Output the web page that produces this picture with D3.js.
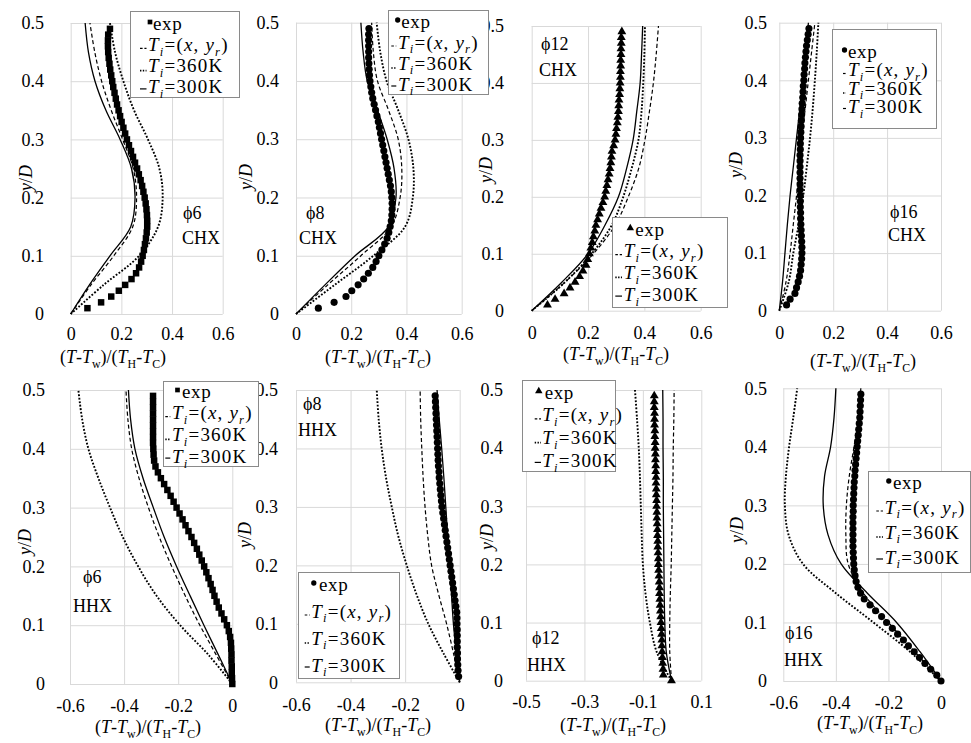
<!DOCTYPE html>
<html>
<head>
<meta charset="utf-8">
<script src="https://cdn.jsdelivr.net/npm/d3@7"></script>
<style>
  body { margin: 0; background: #fff; }
  svg text { font-family: "Liberation Serif", "Times New Roman", "DejaVu Serif", serif; fill: #000; white-space: pre; }
</style>
</head>
<body>
<svg id="chart" width="971" height="743"></svg>
<script>
// ---- shared axis values ----
const yTicks = [0, 0.1, 0.2, 0.3, 0.4, 0.5];
const xTicksPos = [0, 0.2, 0.4, 0.6];
const xTicksNeg = [-0.6, -0.4, -0.2, 0];
const xTicksShift = [-0.5, -0.3, -0.1, 0.1];

// y/D positions of the simulated profiles
const yLine = [0, 0.05, 0.1, 0.15, 0.2, 0.25, 0.3, 0.35, 0.4, 0.45, 0.5];
// y/D positions of the measured points
const yExpA = [0.01,0.02,0.03,0.04,0.05,0.06,0.07,0.08,0.09,0.10,
               0.11,0.12,0.13,0.14,0.15,0.16,0.17,0.18,0.19,0.20,
               0.21,0.22,0.23,0.24,0.25,0.26,0.27,0.28,0.29,0.30,
               0.31,0.32,0.33,0.34,0.35,0.36,0.37,0.38,0.39,0.40,
               0.41,0.42,0.43,0.44,0.45,0.46,0.47,0.48,0.49];
const yExpB = [0.00,0.01,0.02,0.03,0.04,0.05,0.06,0.07,0.08,0.09,0.10,
               0.11,0.12,0.13,0.14,0.15,0.16,0.17,0.18,0.19,0.20,
               0.21,0.22,0.23,0.24,0.25,0.26,0.27,0.28,0.29,0.30,
               0.31,0.32,0.33,0.34,0.35,0.36,0.37,0.38,0.39,0.40,
               0.41,0.42,0.43,0.44,0.45,0.46,0.47,0.48,0.49];

// ---- CHX, φ6 ----
const chx6Exp = [0.066,0.120,0.160,0.190,0.215,0.240,0.258,0.270,0.278,0.284,
                 0.289,0.293,0.297,0.300,0.302,0.302,0.301,0.299,0.296,0.292,
                 0.287,0.282,0.276,0.269,0.262,0.254,0.246,0.238,0.230,0.222,
                 0.215,0.208,0.201,0.195,0.189,0.183,0.178,0.173,0.168,0.164,
                 0.160,0.156,0.153,0.150,0.148,0.147,0.147,0.148,0.155];
const chx6K300 = [0,0.074,0.155,0.237,0.254,0.240,0.195,0.139,0.096,0.070,0.057];
const chx6Xyr  = [0,0.080,0.170,0.245,0.260,0.247,0.205,0.160,0.122,0.095,0.076];
const chx6K360 = [0,0.130,0.270,0.345,0.363,0.350,0.305,0.250,0.208,0.175,0.155];

// ---- CHX, φ8 ----
const chx8Exp = [0.081,0.138,0.181,0.202,0.225,0.245,0.262,0.278,0.290,0.300,
                 0.311,0.321,0.330,0.336,0.341,0.345,0.347,0.348,0.348,0.347,
                 0.345,0.342,0.338,0.334,0.330,0.326,0.322,0.318,0.314,0.310,
                 0.306,0.302,0.298,0.293,0.288,0.283,0.278,0.274,0.271,0.268,
                 0.266,0.265,0.264,0.263,0.263,0.263,0.263,0.263,0.264];
const chx8K300 = [0,0.105,0.214,0.335,0.362,0.355,0.330,0.295,0.258,0.243,0.235];
const chx8Xyr  = [0,0.115,0.235,0.345,0.377,0.383,0.370,0.335,0.295,0.280,0.274];
const chx8K360 = [0,0.140,0.280,0.395,0.423,0.425,0.407,0.370,0.328,0.305,0.292];

// ---- CHX, φ12 ----
const chx12Exp = [0.056,0.083,0.115,0.136,0.154,0.170,0.182,0.193,0.199,0.205,
                  0.210,0.215,0.219,0.224,0.228,0.234,0.240,0.246,0.253,0.259,
                  0.263,0.267,0.271,0.275,0.278,0.281,0.283,0.285,0.291,0.296,
                  0.299,0.301,0.304,0.306,0.308,0.309,0.310,0.312,0.313,0.314,
                  0.315,0.315,0.316,0.316,0.317,0.317,0.318,0.318,0.320];
const chx12K300 = [0,0.107,0.200,0.260,0.308,0.337,0.360,0.373,0.385,0.390,0.394];
const chx12Xyr  = [0,0.118,0.219,0.296,0.343,0.380,0.402,0.418,0.432,0.442,0.450];
const chx12K360 = [0,0.118,0.213,0.284,0.325,0.355,0.379,0.390,0.396,0.400,0.402];

// ---- CHX, φ16 ----
const chx16Exp = [0.027,0.040,0.058,0.064,0.070,0.075,0.079,0.081,0.083,0.084,
                  0.084,0.083,0.082,0.081,0.080,0.079,0.079,0.078,0.078,0.078,
                  0.077,0.077,0.077,0.077,0.077,0.077,0.077,0.078,0.078,0.079,
                  0.080,0.081,0.082,0.083,0.084,0.085,0.087,0.088,0.089,0.091,
                  0.092,0.094,0.095,0.097,0.099,0.101,0.104,0.107,0.110];
const chx16K300 = [0,0.012,0.021,0.030,0.040,0.052,0.064,0.076,0.088,0.098,0.108];
const chx16Xyr  = [0,0.025,0.040,0.052,0.064,0.074,0.083,0.096,0.108,0.120,0.132];
const chx16K360 = [0,0.035,0.052,0.072,0.089,0.102,0.114,0.124,0.132,0.139,0.145];

// ---- HHX, φ6 ----
const hhx6Exp = [0,-0.001,-0.002,-0.002,-0.003,-0.003,-0.004,-0.005,-0.008,-0.013,
                 -0.020,-0.030,-0.040,-0.050,-0.058,-0.066,-0.073,-0.080,-0.088,-0.096,
                 -0.104,-0.113,-0.122,-0.131,-0.141,-0.151,-0.162,-0.173,-0.184,-0.195,
                 -0.206,-0.217,-0.228,-0.240,-0.252,-0.264,-0.275,-0.284,-0.289,-0.291,
                 -0.292,-0.293,-0.293,-0.293,-0.293,-0.293,-0.293,-0.293,-0.293,-0.293];
const hhx6K300 = [0,-0.052,-0.105,-0.156,-0.206,-0.252,-0.292,-0.330,-0.360,-0.376,-0.384];
const hhx6Xyr  = [0,-0.060,-0.120,-0.174,-0.224,-0.270,-0.310,-0.345,-0.372,-0.386,-0.393];
const hhx6K360 = [0,-0.089,-0.193,-0.280,-0.348,-0.405,-0.452,-0.495,-0.532,-0.555,-0.569];

// ---- HHX, φ8 ----
const hhx8Exp = [-0.004,-0.006,-0.007,-0.008,-0.008,-0.009,-0.009,-0.009,-0.009,-0.010,
                 -0.010,-0.011,-0.014,-0.017,-0.020,-0.023,-0.026,-0.029,-0.032,-0.035,
                 -0.038,-0.041,-0.044,-0.047,-0.050,-0.053,-0.056,-0.059,-0.062,-0.065,
                 -0.067,-0.069,-0.071,-0.073,-0.075,-0.076,-0.078,-0.079,-0.080,-0.081,
                 -0.082,-0.083,-0.084,-0.085,-0.086,-0.087,-0.088,-0.089,-0.090];
const hhx8K300 = [0,-0.012,-0.023,-0.030,-0.037,-0.044,-0.051,-0.058,-0.066,-0.075,-0.083];
const hhx8Xyr  = [0,-0.023,-0.048,-0.077,-0.103,-0.117,-0.127,-0.134,-0.139,-0.143,-0.145];
const hhx8K360 = [0,-0.060,-0.115,-0.158,-0.194,-0.225,-0.249,-0.270,-0.286,-0.297,-0.304];

// ---- HHX, φ12 ----
const hhx12Exp = [-0.002,-0.030,-0.031,-0.032,-0.033,-0.034,-0.035,-0.035,-0.036,-0.037,
                  -0.038,-0.039,-0.040,-0.041,-0.042,-0.043,-0.043,-0.044,-0.045,-0.046,
                  -0.047,-0.047,-0.048,-0.049,-0.049,-0.050,-0.050,-0.051,-0.052,-0.052,
                  -0.053,-0.053,-0.054,-0.054,-0.055,-0.055,-0.056,-0.056,-0.057,-0.057,
                  -0.058,-0.058,-0.059,-0.059,-0.060,-0.060,-0.060,-0.061,-0.061,-0.061];
const hhx12K300 = [-0.002,-0.020,-0.025,-0.027,-0.028,-0.029,-0.030,-0.030,-0.031,-0.031,-0.032];
const hhx12Xyr  = [-0.002,-0.008,-0.008,-0.006,-0.003,-0.001,0.001,0.003,0.004,0.006,0.007];
const hhx12K360 = [-0.002,-0.053,-0.076,-0.091,-0.100,-0.104,-0.107,-0.110,-0.114,-0.120,-0.127];

// ---- HHX, φ16 ----
const hhx16Exp = [0,-0.016,-0.039,-0.061,-0.082,-0.102,-0.124,-0.143,-0.165,-0.185,
                  -0.207,-0.226,-0.249,-0.270,-0.292,-0.306,-0.316,-0.323,-0.327,-0.330,
                  -0.332,-0.333,-0.334,-0.335,-0.335,-0.335,-0.335,-0.335,-0.335,-0.334,
                  -0.334,-0.333,-0.332,-0.331,-0.330,-0.328,-0.327,-0.325,-0.323,-0.321,
                  -0.319,-0.317,-0.315,-0.313,-0.311,-0.309,-0.308,-0.307,-0.306,-0.305];
const hhx16K300 = [0,-0.080,-0.169,-0.280,-0.380,-0.430,-0.448,-0.443,-0.420,-0.407,-0.400];
const hhx16Xyr  = [0,-0.100,-0.200,-0.295,-0.353,-0.362,-0.360,-0.349,-0.331,-0.315,-0.305];
const hhx16K360 = [0,-0.118,-0.257,-0.400,-0.525,-0.580,-0.594,-0.590,-0.578,-0.562,-0.547];

// ---- panel layout ----
const panels = [
  { exp: chx6Exp, expY: yExpA, k300: chx6K300, xyr: chx6Xyr, k360: chx6K360, sym: d3.symbolSquare,
    xDomain: [0, 0.6], xTicks: xTicksPos,
    left: 70.7, right: 222.7, top: 23, bottom: 314, yLabRight: 44, xPad: 13,
    xTitle: [113, 363], yTitle: [26, 178],
    tag: [["\u03D56", 183, 219], ["CHX", 182, 244]],
    leg: { x: 130, y: 11, w: 109, h: 86, off: 13, sp: 21.3, mx: 20, ex: 23, l0: 10, l1: 16.5, tx: 18 } },
  { exp: chx8Exp, expY: yExpA, k300: chx8K300, xyr: chx8Xyr, k360: chx8K360, sym: d3.symbolCircle,
    xDomain: [0, 0.6], xTicks: xTicksPos,
    left: 296, right: 461.7, top: 22.7, bottom: 314, yLabRight: 279, xPad: 13,
    xTitle: [378, 363], yTitle: [246, 177],
    tag: [["\u03D58", 306, 219], ["CHX", 299, 244]],
    leg: { x: 388, y: 10, w: 100, h: 84, off: 12, sp: 21, mx: 9.7, ex: 13.3, l0: 3.3, l1: 8.3, tx: 10 } },
  { exp: chx12Exp, expY: yExpA, k300: chx12K300, xyr: chx12Xyr, k360: chx12K360, sym: d3.symbolTriangle,
    xDomain: [0, 0.6], xTicks: xTicksPos,
    left: 531.7, right: 700.7, top: 26, bottom: 310.7, yLabRight: 504, xPad: 16,
    xTitle: [616, 360], yTitle: [486, 170],
    tag: [["\u03D512", 541, 50], ["CHX", 539, 76]],
    leg: { x: 612, y: 217, w: 115, h: 90, off: 13, sp: 21.7, mx: 18.3, ex: 23.3, l0: 3.3, l1: 10, tx: 11.7 } },
  { exp: chx16Exp, expY: yExpA, k300: chx16K300, xyr: chx16Xyr, k360: chx16K360, sym: d3.symbolCircle,
    xDomain: [0, 0.6], xTicks: xTicksPos,
    left: 779.3, right: 941, top: 22.7, bottom: 310.7, yLabRight: 767, xPad: 16,
    xTitle: [863, 367], yTitle: [736, 165],
    tag: [["\u03D516", 890, 218], ["CHX", 888, 241]],
    leg: { x: 832, y: 29, w: 104, h: 99, off: 23, sp: 18.5, mx: 12.5, ex: 16, l0: 11, l1: 14, tx: 16 } },
  { exp: hhx6Exp, expY: yExpB, k300: hhx6K300, xyr: hhx6Xyr, k360: hhx6K360, sym: d3.symbolSquare,
    xDomain: [-0.6, 0], xTicks: xTicksNeg,
    left: 70, right: 232.3, top: 390, bottom: 684, yLabRight: 45, xPad: 15,
    xTitle: [148, 733], yTitle: [25, 542],
    tag: [["\u03D56", 83, 583], ["HHX", 73, 612]],
    leg: { x: 163, y: 381, w: 95, h: 85, off: 11, sp: 21.7, mx: 14.5, ex: 19, l0: 2.3, l1: 7.3, tx: 9 } },
  { exp: hhx8Exp, expY: yExpA, k300: hhx8K300, xyr: hhx8Xyr, k360: hhx8K360, sym: d3.symbolCircle,
    xDomain: [-0.6, 0], xTicks: xTicksNeg,
    left: 296, right: 459.7, top: 390, bottom: 682.3, yLabRight: 278, xPad: 16,
    xTitle: [378, 731], yTitle: [245, 535],
    tag: [["\u03D58", 303, 410], ["HHX", 298, 436]],
    leg: { x: 298, y: 572, w: 101, h: 106, off: 13, sp: 27, mx: 15.8, ex: 21, l0: 6.7, l1: 11.7, tx: 13.3 } },
  { exp: hhx12Exp, expY: yExpB, k300: hhx12K300, xyr: hhx12Xyr, k360: hhx12K360, sym: d3.symbolTriangle,
    xDomain: [-0.5, 0.1], xTicks: xTicksShift,
    left: 526, right: 701.3, top: 390, bottom: 680.7, yLabRight: 503, xPad: 15,
    xTitle: [613, 731], yTitle: [487, 537],
    tag: [["\u03D512", 532, 644], ["HHX", 527, 671]],
    leg: { x: 522, y: 380, w: 93, h: 91, off: 13, sp: 22.8, mx: 16.8, ex: 22.7, l0: 12.7, l1: 19, tx: 20.3 } },
  { exp: hhx16Exp, expY: yExpB, k300: hhx16K300, xyr: hhx16Xyr, k360: hhx16K360, sym: d3.symbolCircle,
    xDomain: [-0.6, 0], xTicks: xTicksNeg,
    left: 783.3, right: 941, top: 388.3, bottom: 681, yLabRight: 767, xPad: 15,
    xTitle: [870, 729], yTitle: [737, 530],
    tag: [["\u03D516", 785, 639], ["HHX", 784, 666]],
    leg: { x: 868, y: 471, w: 102, h: 101, off: 12, sp: 25, mx: 20.8, ex: 25, l0: 8.3, l1: 15, tx: 16.7 } }
];

const svg = d3.select("#chart");
svg.append("rect").attr("width", 971).attr("height", 743).attr("fill", "#fff");

const GRID = "#d9d9d9";
const FS = 18;        // tick / title font size
const LFS = 19;       // legend font size

// text with italic parts and subscripts
function rich(textSel, parts, fs) {
  let shift = 0;
  parts.forEach(([s, st]) => {
    const sub = st === "si" || st === "sn";
    const target = sub ? fs * 0.26 : 0;
    const t = textSel.append("tspan").text(s)
      .attr("font-style", (st === "i" || st === "si") ? "italic" : "normal")
      .attr("font-size", sub ? fs * 0.66 : fs);
    if (target !== shift) { t.attr("dy", target - shift); shift = target; }
  });
}

const xTitleParts = [["(", "n"], ["T", "i"], ["-", "n"], ["T", "i"], ["w", "sn"], [")/(", "n"],
                     ["T", "i"], ["H", "sn"], ["-", "n"], ["T", "i"], ["C", "sn"], [")", "n"]];
const yTitleParts = [["y", "i"], ["/", "n"], ["D", "i"]];
const fmt = d => (d === 0 ? "0" : String(d));

const styles = {
  k300: { w: 1.3, dash: null },
  xyr:  { w: 1.2, dash: "4,2.6" },
  k360: { w: 1.9, dash: "1.8,1.7" }
};

panels.forEach(p => {
  const g = svg.append("g");
  const x = d3.scaleLinear().domain(p.xDomain).range([p.left, p.right]);
  const y = d3.scaleLinear().domain([0, 0.5]).range([p.bottom, p.top]);

  // vertical grid + x tick labels
  g.append("g").attr("transform", `translate(0,${p.bottom})`)
    .call(d3.axisBottom(x).tickValues(p.xTicks).tickFormat(fmt)
      .tickSize(-(p.bottom - p.top)).tickPadding(p.xPad))
    .call(a => a.select(".domain").remove())
    .call(a => a.selectAll("line").attr("stroke", GRID))
    .attr("font-family", null).attr("font-size", FS);

  // horizontal grid + y tick labels
  g.append("g").attr("transform", `translate(${p.left},0)`)
    .call(d3.axisLeft(y).tickValues(yTicks).tickFormat(fmt)
      .tickSize(-(p.right - p.left)).tickPadding(p.left - p.yLabRight))
    .call(a => a.select(".domain").remove())
    .call(a => a.selectAll("line").attr("stroke", GRID))
    .attr("font-family", null).attr("font-size", FS);

  // simulated profiles
  const line = d3.line().x(d => x(d[0])).y(d => y(d[1])).curve(d3.curveCatmullRom.alpha(0.5));
  ["k360", "xyr", "k300"].forEach(key => {
    const pts = p[key].map((v, i) => [v, yLine[i]]);
    g.append("path").attr("d", line(pts)).attr("fill", "none")
      .attr("stroke", "#000").attr("stroke-width", styles[key].w)
      .attr("stroke-dasharray", styles[key].dash);
  });

  // measured points
  const symSize = p.sym === d3.symbolTriangle ? 34 : (p.sym === d3.symbolSquare ? 42 : 40);
  const sym = d3.symbol().type(p.sym).size(symSize);
  g.append("g").selectAll("path").data(p.exp.map((v, i) => [v, p.expY[i]])).join("path")
    .attr("transform", d => `translate(${x(d[0])},${y(d[1])})`)
    .attr("d", sym).attr("fill", "#000");

  // case tag
  p.tag.forEach(([s, tx, ty]) => {
    g.append("text").attr("x", tx).attr("y", ty).attr("font-size", FS).text(s);
  });

  // axis titles
  rich(g.append("text").attr("x", p.xTitle[0]).attr("y", p.xTitle[1]).attr("text-anchor", "middle"),
       xTitleParts, FS);
  rich(g.append("text").attr("text-anchor", "middle")
         .attr("transform", `translate(${p.yTitle[0] + 6},${p.yTitle[1]}) rotate(-90)`),
       yTitleParts, FS);
});

// legends on top of everything
panels.forEach(p => {
  const L = p.leg;
  const g = svg.append("g").attr("transform", `translate(${L.x},${L.y})`);
  g.append("rect").attr("x", 0.5).attr("y", 0.5).attr("width", L.w).attr("height", L.h)
    .attr("fill", "#fff").attr("stroke", "#8a8a8a").attr("stroke-width", 1);
  const rowY = i => L.off + i * L.sp;

  g.append("path").attr("transform", `translate(${L.mx},${rowY(0) - 2})`)
    .attr("d", d3.symbol().type(p.sym).size(p.sym === d3.symbolTriangle ? 24 : 22)).attr("fill", "#000");
  g.append("text").attr("x", L.ex).attr("y", rowY(0) + 5.5).attr("font-size", LFS)
    .attr("letter-spacing", 0.6).text("exp");

  const rows = [
    { key: "xyr", parts: [["T", "i"], ["i", "si"], ["=(", "n"], ["x", "i"], [", ", "n"], ["y", "i"], ["r", "si"], [")", "n"]], dy: 3, dash: "2.6,1.8" },
    { key: "k360", parts: [["T", "i"], ["i", "si"], ["=360K", "n"]], dy: 4, dash: "1.4,1.4" },
    { key: "k300", parts: [["T", "i"], ["i", "si"], ["=300K", "n"]], dy: 1, dash: null }
  ];
  rows.forEach((r, k) => {
    const cy = rowY(k + 1);
    g.append("line").attr("x1", L.l0).attr("x2", L.l1).attr("y1", cy + r.dy).attr("y2", cy + r.dy)
      .attr("stroke", "#000").attr("stroke-width", r.key === "k360" ? 1.6 : 1.2)
      .attr("stroke-dasharray", r.dash);
    rich(g.append("text").attr("x", L.tx).attr("y", cy + 5.5).attr("letter-spacing", 1.2), r.parts, LFS);
  });
});
</script>
</body>
</html>
